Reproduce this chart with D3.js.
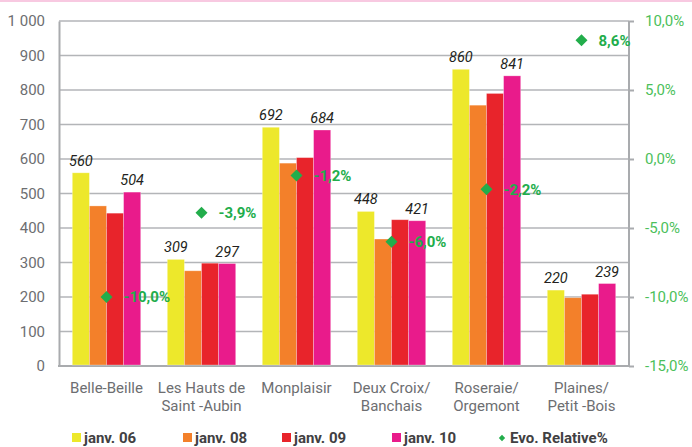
<!DOCTYPE html>
<html><head><meta charset="utf-8">
<script src="https://cdn.jsdelivr.net/npm/d3@7"></script>
<style>
html,body{margin:0;padding:0;background:#fff;}
svg{display:block;font-family:Roboto,"DejaVu Sans",sans-serif;}
</style></head>
<body>
<svg id="c" width="692" height="447"></svg>
<script>
const categories = [["Belle-Beille"],["Les Hauts de","Saint -Aubin"],["Monplaisir"],["Deux Croix/","Banchais"],["Roseraie/","Orgemont"],["Plaines/","Petit -Bois"]];
const seriesNames = ["janv. 06","janv. 08","janv. 09","janv. 10"];
const janv06 = [560,309,692,448,860,220];
const janv08 = [464,276,588,368,756,198];
const janv09 = [443,298,604,424,790,208];
const janv10 = [504,297,684,421,841,239];
const evo = [-10.0,-3.9,-1.2,-6.0,-2.2,8.6];
const leftTicks = [0,100,200,300,400,500,600,700,800,900,1000];
const rightTicks = [-15,-10,-5,0,5,10];
const evoName = "Evo. Relative%";

const colors = ["#ede82b","#f3802a","#e8242b","#e91b8b"];
const green = "#22ad4b", greenAxis = "#4cbf5b";
const series = [janv06,janv08,janv09,janv10];

const svg = d3.select("#c");
const L=59,R=629,T=21,B=366;

// top pink line
svg.append("rect").attr("x",0).attr("y",0).attr("width",692).attr("height",2).attr("fill","#f8c9e1");

const y = d3.scaleLinear().domain([0,1000]).range([B,T]);
const yR = d3.scaleLinear().domain([-15,10]).range([B,T]);
const x0 = d3.scaleBand().domain(d3.range(categories.length)).range([L,R]).paddingInner(0.28).paddingOuter(0.14);
const x1 = d3.scaleBand().domain(d3.range(series.length)).range([0,x0.bandwidth()]);

const loc = d3.formatLocale({decimal:",",thousands:" ",grouping:[3],currency:["","€"],minus:"-"});
const fmtL = loc.format(",");
const fmtP = v => loc.format(".1f")(v)+"%";

// gridlines
svg.append("g").selectAll("line").data(leftTicks.filter(d=>d>0)).join("line")
  .attr("x1",L).attr("x2",R).attr("y1",d=>y(d)).attr("y2",d=>y(d))
  .attr("stroke","#b3b5b8").attr("stroke-width",1.5);

// left axis
const gl = svg.append("g").attr("transform",`translate(${L},0)`)
  .call(d3.axisLeft(y).tickValues(leftTicks).tickSize(0).tickPadding(14).tickFormat(fmtL));
gl.select(".domain").attr("stroke","#a9abae").attr("stroke-width",2);
gl.selectAll("text").attr("fill","#6d6e71").attr("font-size",15).attr("font-family","Roboto,sans-serif");

// right axis
const gr = svg.append("g").attr("transform",`translate(${R},0)`)
  .call(d3.axisRight(yR).tickValues(rightTicks).tickSize(5).tickPadding(11).tickFormat(fmtP));
gr.select(".domain").attr("stroke","#a9abae").attr("stroke-width",2).attr("d",`M0,${T}V${B}`);
gr.selectAll(".tick line").attr("stroke","#a9abae").attr("stroke-width",2);
gr.selectAll("text").attr("fill",greenAxis).attr("font-size",15).attr("font-family","Roboto,sans-serif");

// bottom baseline
svg.append("line").attr("x1",L-1).attr("x2",R+1).attr("y1",B).attr("y2",B).attr("stroke","#a9abae").attr("stroke-width",2);

// bars
const groups = svg.append("g").selectAll("g").data(categories).join("g")
  .attr("transform",(d,i)=>`translate(${x0(i)},0)`);
groups.selectAll("rect").data((d,i)=>series.map((s,k)=>({k,v:s[i]}))).join("rect")
  .attr("x",d=>x1(d.k)).attr("width",x1.bandwidth())
  .attr("y",d=>y(d.v)).attr("height",d=>B-1-y(d.v))
  .attr("fill",d=>colors[d.k]).attr("stroke","#ffffff").attr("stroke-opacity",0.35).attr("stroke-width",0.8);

// value labels for janv.06 and janv.10
groups.selectAll("text.val").data((d,i)=>[0,3].map(k=>({k,v:series[k][i]}))).join("text")
  .attr("class","val")
  .attr("x",d=>x1(d.k)+x1.bandwidth()/2).attr("y",d=>y(d.v)-7)
  .attr("text-anchor","middle").attr("font-style","italic").attr("font-size",14.5)
  .attr("fill","#231f20").text(d=>d.v);

// evo diamonds
const eg = svg.append("g").selectAll("g").data(evo).join("g")
  .attr("transform",(d,i)=>`translate(${x0(i)+x0.bandwidth()/2},${yR(d)})`);
eg.append("path").attr("d",d3.symbol().type(d3.symbolSquare).size(72)).attr("transform","rotate(45)").attr("fill",green);
eg.append("text").attr("x",17).attr("dy","0.36em").attr("font-weight","bold").attr("font-size",15)
  .attr("fill",green).text(d=>fmtP(d));

// category labels
const cl = svg.append("g").selectAll("text").data(categories).join("text")
  .attr("text-anchor","middle").attr("font-size",15).attr("fill","#6d6e71")
  .attr("transform",(d,i)=>`translate(${x0(i)+x0.bandwidth()/2},393)`);
cl.selectAll("tspan").data(d=>d).join("tspan").attr("x",0).attr("dy",(d,j)=>j?18:0).text(d=>d);

// legend
const legX = [72,183,282,392];
const lg = svg.append("g");
seriesNames.forEach((n,k)=>{
  lg.append("rect").attr("x",legX[k]).attr("y",433).attr("width",9).attr("height",9).attr("fill",colors[k]);
  lg.append("text").attr("x",legX[k]+12).attr("y",443).attr("font-weight","bold").attr("font-size",15)
    .attr("fill","#414042").text(n);
});
lg.append("path").attr("d",d3.symbol().type(d3.symbolSquare).size(20))
  .attr("transform","translate(502,438) rotate(45)").attr("fill",green);
lg.append("text").attr("x",510).attr("y",443).attr("font-weight","bold").attr("font-size",15)
  .attr("fill","#414042").text(evoName);
</script>
</body></html>
